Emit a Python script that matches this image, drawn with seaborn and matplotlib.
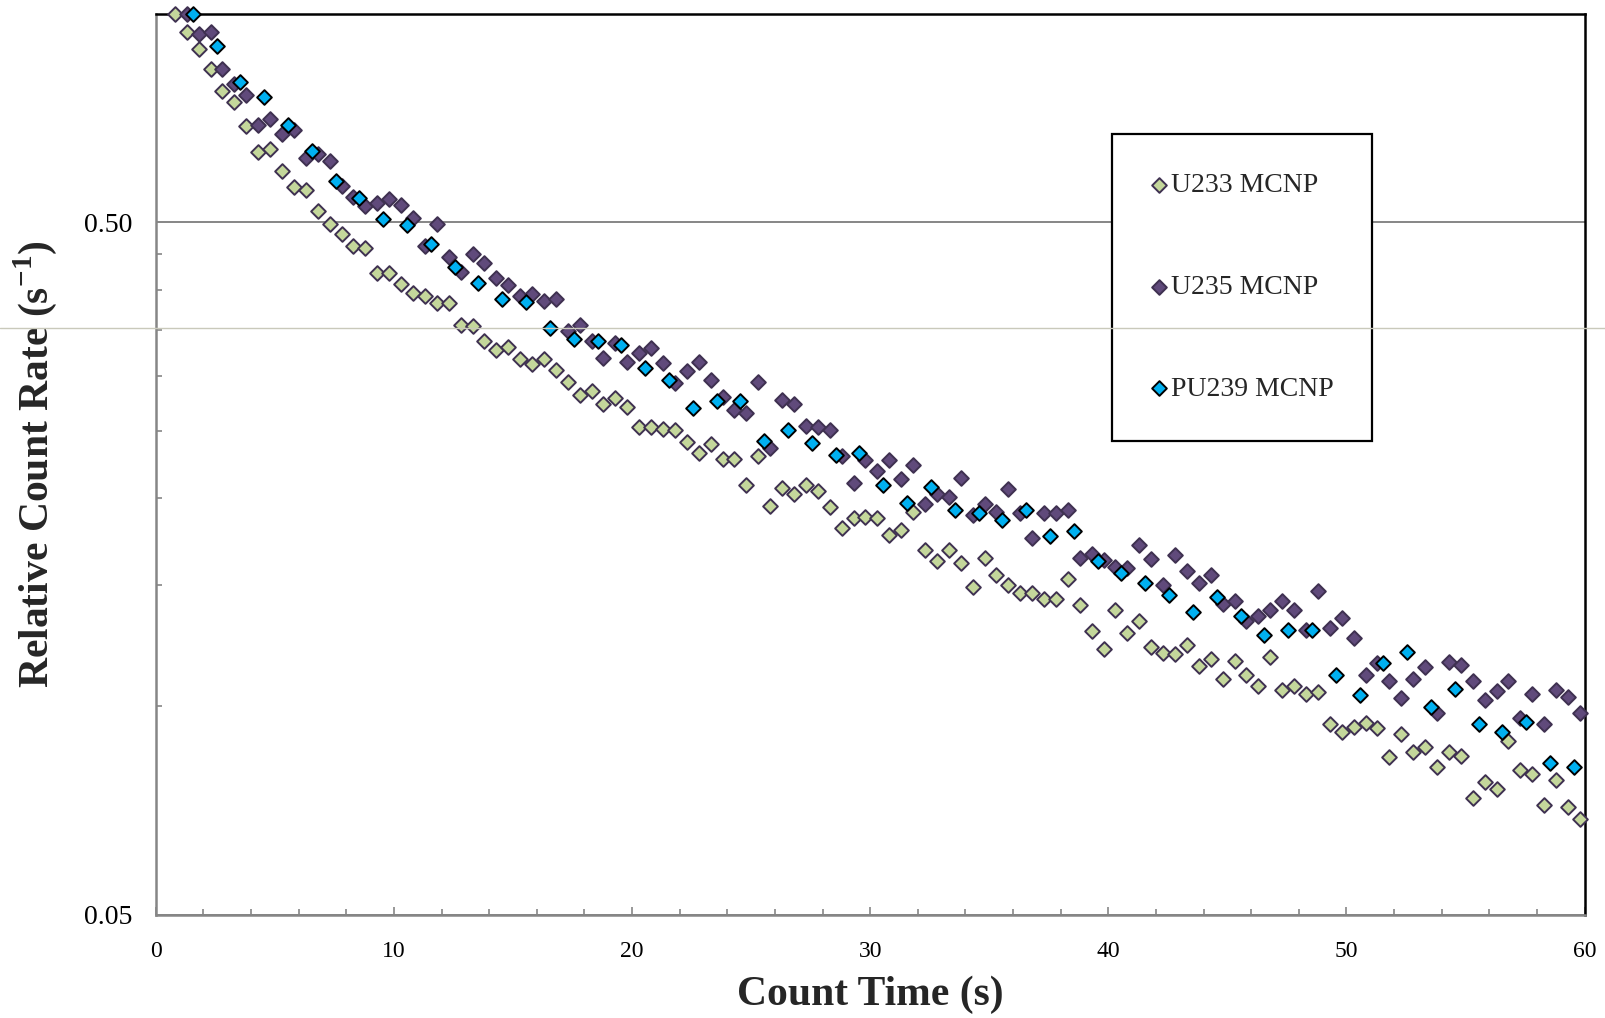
import numpy as np
import pandas as pd
import matplotlib
matplotlib.use("Agg")
import matplotlib.pyplot as plt
import matplotlib.transforms as mtransforms
from matplotlib.lines import Line2D
from matplotlib.ticker import FixedLocator, FixedFormatter, NullFormatter
import seaborn as sns

# ---------------- data ----------------
series_names = ["U233 MCNP", "U235 MCNP", "PU239 MCNP"]

t_u233 = np.round(np.arange(0.8, 60.0, 0.5), 2)          # count time (s)
u233 = [1.000, 0.941, 0.891, 0.833, 0.775, 0.746, 0.689, 0.632, 0.639, 0.594,
        0.562, 0.556, 0.519, 0.497, 0.481, 0.462, 0.460, 0.423, 0.423, 0.408,
        0.396, 0.392, 0.383, 0.382, 0.355, 0.354, 0.337, 0.327, 0.330, 0.317,
        0.312, 0.317, 0.306, 0.294, 0.282, 0.285, 0.273, 0.279, 0.271, 0.253,
        0.253, 0.252, 0.251, 0.241, 0.232, 0.239, 0.228, 0.2275, 0.209, 0.230,
        0.195, 0.207, 0.203, 0.209, 0.205, 0.194, 0.181, 0.187, 0.188, 0.187,
        0.177,
        0.180, 0.191, 0.168, 0.162, 0.1685, 0.161, 0.1486, 0.164, 0.155, 0.150,
        0.146, 0.146, 0.143, 0.143, 0.153, 0.140, 0.1285, 0.121, 0.138, 0.1275,
        0.133, 0.122, 0.1195, 0.119, 0.1226, 0.1144, 0.117, 0.1096, 0.1163, 0.111,
        0.1071, 0.1177, 0.1056, 0.1071, 0.1041, 0.105, 0.0943, 0.092, 0.0935, 0.0947,
        0.093,
        0.0846, 0.0912, 0.086, 0.0873, 0.0818, 0.086, 0.0849, 0.0738, 0.0777, 0.0761,
        0.0891, 0.0811, 0.080, 0.072, 0.0783, 0.0715, 0.0689]

t_u235 = np.round(np.arange(1.3, 60.0, 0.5), 2)
u235 = [1.000, 0.936, 0.943, 0.832, 0.791, 0.765, 0.692, 0.706, 0.672, 0.679,
        0.620, 0.627, 0.614, 0.565, 0.544, 0.528, 0.533, 0.541, 0.529,
        0.507, 0.463, 0.497, 0.446, 0.424, 0.450, 0.437, 0.415, 0.406, 0.392,
        0.394, 0.385, 0.387, 0.348, 0.355, 0.337, 0.319, 0.335, 0.314, 0.324,
        0.329, 0.313, 0.293, 0.305, 0.314, 0.296, 0.280, 0.268, 0.265, 0.294,
        0.236, 0.277, 0.273, 0.254, 0.253, 0.251, 0.230, 0.210, 0.227, 0.219,
        0.227,
        0.213, 0.2235, 0.196, 0.203, 0.201, 0.214, 0.189, 0.196, 0.191, 0.206,
        0.190, 0.175, 0.190, 0.190, 0.1925, 0.164, 0.166, 0.163, 0.159, 0.1585,
        0.171, 0.1635, 0.150, 0.1654, 0.157, 0.151, 0.155, 0.1405, 0.142, 0.133,
        0.135, 0.138, 0.142, 0.138, 0.129, 0.147, 0.130, 0.134, 0.1257, 0.111,
        0.1155,
        0.1089, 0.1029, 0.1094, 0.1139, 0.0979, 0.1158, 0.1148, 0.1089, 0.1021, 0.1052,
        0.1088, 0.0963, 0.1041, 0.0942, 0.1056, 0.1032, 0.098]

t_pu239 = np.round(np.arange(1.55, 60.0, 1.0), 2)
pu239 = [1.000, 0.900, 0.797, 0.758, 0.692, 0.635, 0.573, 0.542, 0.506,
         0.495, 0.466, 0.431, 0.409, 0.388, 0.384, 0.352, 0.339, 0.337, 0.333,
         0.308, 0.296, 0.270, 0.276, 0.276, 0.242, 0.251, 0.240, 0.231, 0.232, 0.209,
         0.197, 0.2075, 0.192, 0.190, 0.186, 0.1925, 0.176, 0.179, 0.162, 0.156,
         0.1506, 0.145, 0.137, 0.144, 0.135, 0.127, 0.129, 0.129, 0.111, 0.104,
         0.1156, 0.1199, 0.0999, 0.106, 0.0945, 0.092, 0.095, 0.0828, 0.0817]

y_major_ticks = [0.05, 0.5]
y_major_labels = ["0.05", "0.50"]
y_minor_ticks = [0.10, 0.15, 0.20, 0.25, 0.30, 0.35, 0.40, 0.45]
x_major_ticks = [0, 10, 20, 30, 40, 50, 60]
x_minor_ticks = [2, 4, 6, 8, 12, 14, 16, 18, 22, 24, 26, 28, 32, 34, 36, 38,
                 42, 44, 46, 48, 52, 54, 56, 58]
stray_line_level = 0.352

# ---------------- style ----------------
sns.set_style("white")
plt.rcParams["font.family"] = ["Liberation Serif", "DejaVu Serif"]
plt.rcParams["mathtext.fontset"] = "custom"
plt.rcParams["mathtext.rm"] = "Liberation Serif"
plt.rcParams["mathtext.bf"] = "Liberation Serif:bold"

face = ["#c4d79b", "#604a7b", "#00b0f0"]
edge = ["#3f3151", "#3f3151", "#000000"]
gray = "#868686"

fig = plt.figure(figsize=(16.06, 10.18), dpi=100)
ax = fig.add_axes([0.0970, 0.1012, 0.8897, 0.8851])

frames = [
    pd.DataFrame({"t": t_u233, "rate": u233}),
    pd.DataFrame({"t": t_u235, "rate": u235}),
    pd.DataFrame({"t": t_pu239, "rate": pu239}),
]
for i, (df, name) in enumerate(zip(frames, series_names)):
    sns.scatterplot(data=df, x="t", y="rate", ax=ax, marker="D", s=56,
                    color=face[i], edgecolor=edge[i], linewidth=1.4,
                    label=name, clip_on=False, zorder=3 + i)

ax.set_yscale("log")
ax.set_xlim(0, 60)
ax.set_ylim(0.05, 1.0)

ax.yaxis.set_major_locator(FixedLocator(y_major_ticks))
ax.yaxis.set_major_formatter(FixedFormatter(y_major_labels))
ax.yaxis.set_minor_locator(FixedLocator(y_minor_ticks))
ax.yaxis.set_minor_formatter(NullFormatter())
ax.xaxis.set_major_locator(FixedLocator(x_major_ticks))
ax.xaxis.set_minor_locator(FixedLocator(x_minor_ticks))

ax.tick_params(axis="y", which="major", length=0, pad=17, labelsize=20, colors="black")
ax.tick_params(axis="y", which="minor", direction="in", length=4.5, width=1.2, color=gray, left=True)
ax.tick_params(axis="x", which="major", direction="in", length=6, width=1.2, color=gray,
               pad=19, labelsize=17, labelcolor="black", bottom=True)
ax.tick_params(axis="x", which="minor", direction="in", length=4.2, width=1.2, color=gray, bottom=True)

ax.yaxis.grid(True, which="major", color=gray, linewidth=1.4)
ax.xaxis.grid(False)
ax.set_axisbelow(True)

for s in ["left", "bottom"]:
    ax.spines[s].set_color(gray)
    ax.spines[s].set_linewidth(1.8)
for s in ["top", "right"]:
    ax.spines[s].set_color("black")
    ax.spines[s].set_linewidth(1.8)

ax.set_xlabel("Count Time (s)", fontsize=30, fontweight="bold")
ax.set_ylabel(r"Relative Count Rate (s$^{\mathbf{-1}}$)", fontsize=30, fontweight="bold")
ax.xaxis.set_label_coords(0.5, -0.067)
ax.yaxis.set_label_coords(-0.068, 0.5)

handles, labels = ax.get_legend_handles_labels()
leg = ax.legend(handles, labels, loc="upper left", bbox_to_anchor=(0.669, 0.867),
                frameon=True, fancybox=False, framealpha=1, edgecolor="black",
                fontsize=20, labelspacing=2.75, borderpad=1.4, handlelength=0.6,
                handletextpad=0.12, scatterpoints=1, borderaxespad=0)
leg.get_frame().set_linewidth(1.6)
leg.set_zorder(10)

# thin stray horizontal rule that crosses the whole figure in the reference
trans = mtransforms.blended_transform_factory(fig.transFigure, ax.transData)
fig.add_artist(Line2D([0, 1], [stray_line_level, stray_line_level], transform=trans,
                      color="#c9c9bb", linewidth=1.0, zorder=20))

fig.savefig("out.png", dpi=100)
